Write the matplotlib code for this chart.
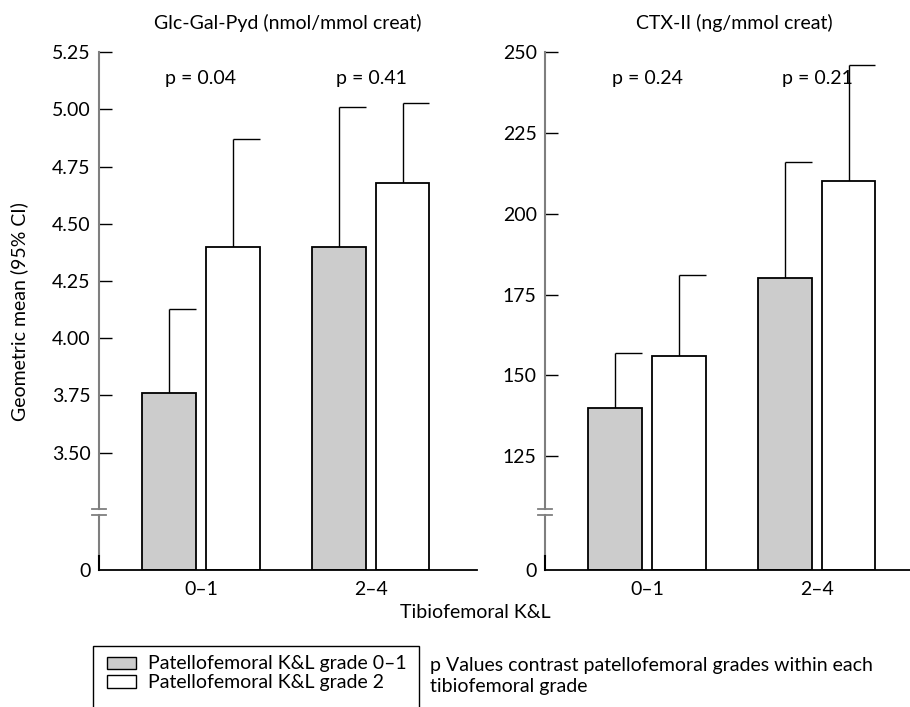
import numpy as np
import matplotlib
matplotlib.use("Agg")
import matplotlib.pyplot as plt
from matplotlib.patches import Rectangle
from matplotlib.lines import Line2D

plt.rcParams['font.family'] = ['Lato', 'DejaVu Sans']
plt.rcParams['font.size'] = 14

# data
groups = ['0\u20131', '2\u20134']
legend_labels = ['Patellofemoral K&L grade 0\u20131', 'Patellofemoral K&L grade 2']

glc_mean_low = [3.76, 4.40]
glc_upper_low = [4.13, 5.01]
glc_mean_high = [4.40, 4.68]
glc_upper_high = [4.87, 5.03]
glc_p = ['p = 0.04', 'p = 0.41']
glc_ticks = [3.50, 3.75, 4.00, 4.25, 4.50, 4.75, 5.00, 5.25]

ctx_mean_low = [140, 180]
ctx_upper_low = [157, 216]
ctx_mean_high = [156, 210]
ctx_upper_high = [181, 246]
ctx_p = ['p = 0.24', 'p = 0.21']
ctx_ticks = [125, 150, 175, 200, 225, 250]

fig = plt.figure(figsize=(9.1, 7.07), dpi=100)

W, H = 910, 707
def ax_rect(left_px):
    return [left_px / W, (H - 570) / H, 378 / W, (570 - 52.3) / H]

x = np.arange(len(groups))
bw = 0.315
off = 0.187
gray = '#cccccc'
axis_gray = '#7f7f7f'


def panel(ax, low, up_low, high, up_high, ticks, ylim, tickfmt, title, pvals):
    ax.set_xlim(-0.6, 1.624)
    ax.set_ylim(*ylim)
    bottom = ylim[0]
    for xs, m, u, col in [(x - off, low, up_low, gray), (x + off, high, up_high, 'white')]:
        ax.bar(xs, np.array(m) - bottom, bw, bottom=bottom, color=col,
               edgecolor='black', linewidth=1.3, zorder=3)
        ax.vlines(xs, m, u, color='black', linewidth=1.0, zorder=2)
        ax.hlines(u, xs, xs + bw / 2, color='black', linewidth=1.0, zorder=2)
    for xi, p in zip(x, pvals):
        ax.text(xi, ylim[1] - (ylim[1] - ylim[0]) * 0.05, p, ha='center', va='center')
    ax.set_yticks([bottom] + ticks)
    ax.set_yticklabels(['0'] + [tickfmt.format(t) for t in ticks])
    ax.tick_params(axis='y', direction='in', length=9.4, width=1.0, pad=6, labelsize=14)
    ax.tick_params(axis='x', length=0, pad=8, labelsize=14)
    ax.set_xticks(x)
    ax.set_xticklabels(groups)
    for s in ['top', 'right', 'left']:
        ax.spines[s].set_visible(False)
    ax.spines['bottom'].set_linewidth(1.3)
    ax.spines['bottom'].set_zorder(4)
    ax.set_title(title, fontsize=14, pad=17)
    tr = ax.transAxes
    # broken y axis
    brk = 0.112
    gap = 0.0055
    ax.add_line(Line2D([0, 0], [brk + gap, 1], color=axis_gray, lw=1.5, transform=tr, clip_on=False))
    ax.add_line(Line2D([0, 0], [0.027, brk - gap], color=axis_gray, lw=1.5, transform=tr, clip_on=False))
    ax.add_line(Line2D([0, 0], [0, 0.027], color='black', lw=1.5, transform=tr, clip_on=False))
    for yy in (brk + gap, brk - gap):
        ax.add_line(Line2D([-0.019, 0.018], [yy, yy], color=axis_gray, lw=1.3, transform=tr, clip_on=False))
    # no tick mark at the zero position
    ax.yaxis.get_major_ticks()[0].tick1line.set_visible(False)


ax1 = fig.add_axes(ax_rect(99))
panel(ax1, glc_mean_low, glc_upper_low, glc_mean_high, glc_upper_high, glc_ticks,
      (2.987, 5.25), '{:.2f}', 'Glc-Gal-Pyd (nmol/mmol creat)', glc_p)
ax1.set_ylabel('Geometric mean (95% CI)', fontsize=14)
ax1.yaxis.set_label_coords(-0.187, 0.5)

ax2 = fig.add_axes(ax_rect(545))
panel(ax2, ctx_mean_low, ctx_upper_low, ctx_mean_high, ctx_upper_high, ctx_ticks,
      (89.7, 250), '{:d}', 'CTX-II (ng/mmol creat)', ctx_p)

fig.text(0.522, 1 - 613 / H, 'Tibiofemoral K&L', ha='center', va='center')

# legend box (runs off the bottom of the figure)
fig.patches.append(Rectangle((93 / W, -0.05), (419 - 93) / W, 0.05 + (H - 646) / H,
                             transform=fig.transFigure, fill=False, edgecolor='black', lw=1.0))
for i, (lab, col) in enumerate(zip(legend_labels, [gray, 'white'])):
    yc = 664 + 18.5 * i
    fig.patches.append(Rectangle((107 / W, 1 - (663 + 18.5 * i + 6.3) / H), 29 / W, 12.6 / H,
                                 transform=fig.transFigure, facecolor=col,
                                 edgecolor='black', lw=1.0))
    fig.text(148 / W, 1 - yc / H, lab, ha='left', va='center')

fig.text(430 / W, 1 - 676 / H, 'p Values contrast patellofemoral grades within each\ntibiofemoral grade',
         ha='left', va='center', linespacing=1.25)

fig.savefig('out.png', dpi=100)
